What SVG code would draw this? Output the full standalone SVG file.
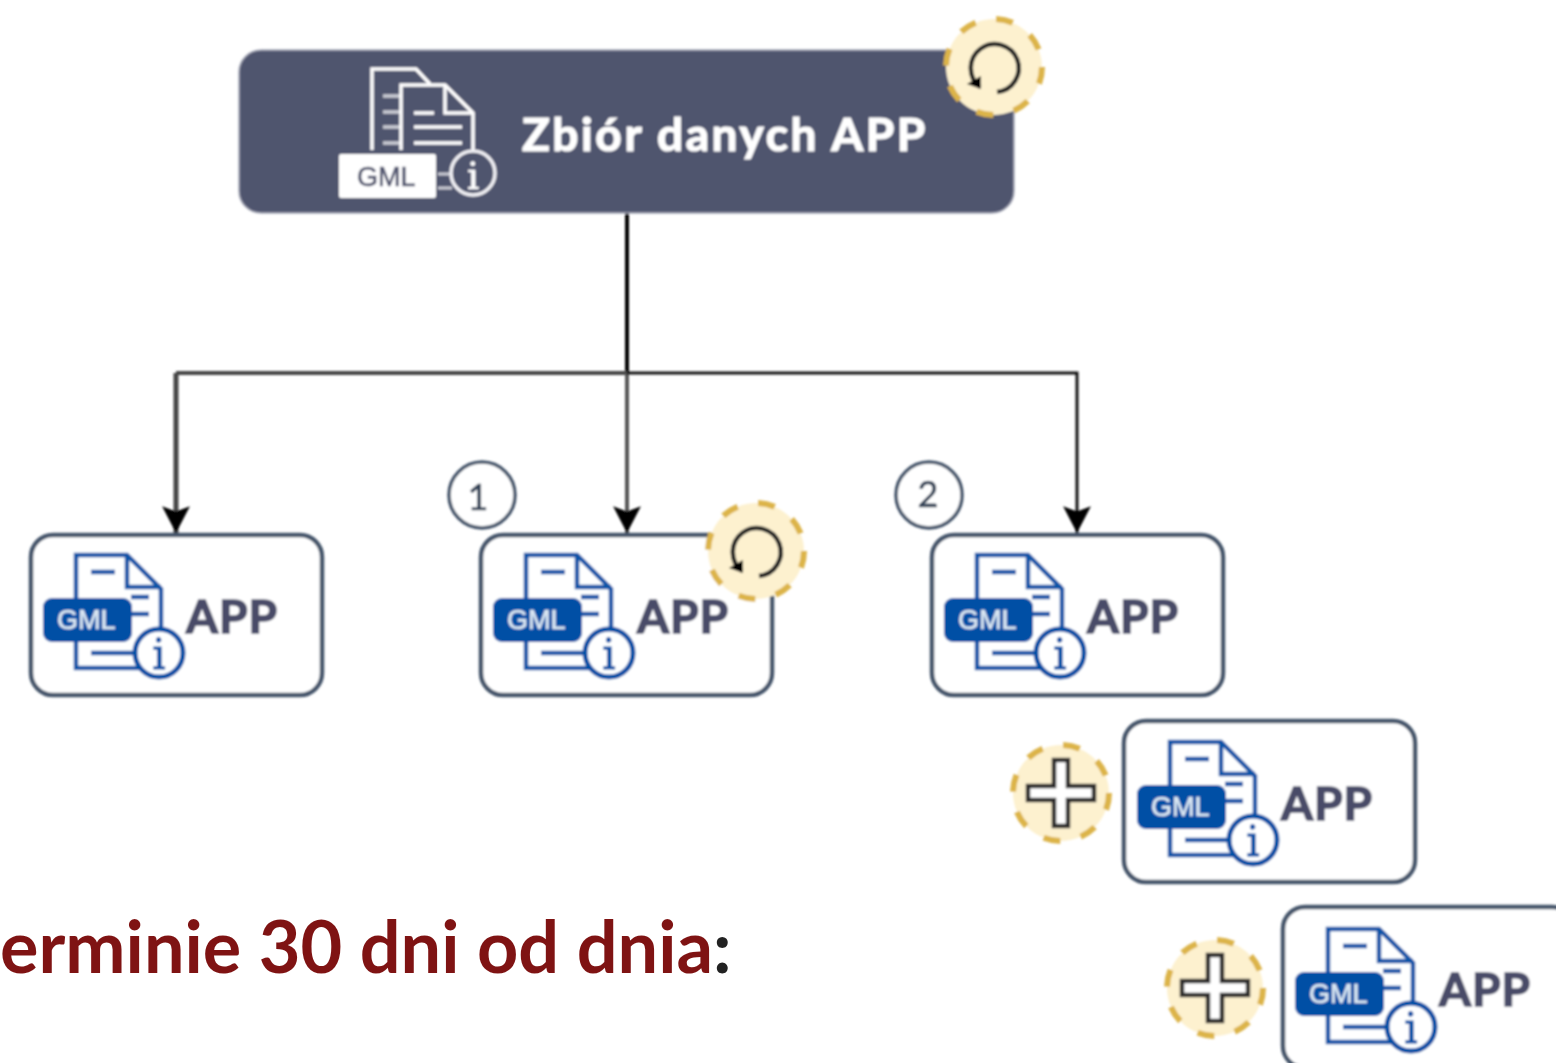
<svg xmlns="http://www.w3.org/2000/svg" width="1556" height="1063" viewBox="0 0 1556 1063">
<style>
text{font-family:Lato,"Liberation Sans",sans-serif;font-weight:700}
.box{fill:#fff;stroke:#44546a;stroke-width:4.5}
.app{font-size:46px;fill:#484c68;stroke:#484c68;stroke-width:1.6;letter-spacing:1px}
.gml{font-size:27px;font-family:"Liberation Sans",sans-serif;font-weight:400;stroke-width:.6}
.ln{fill:none;stroke:#0b55a8;stroke-width:4.5}
.badge{fill:#fdf1cf;stroke:#dcb44a;stroke-width:6;stroke-dasharray:17 21}
.num{fill:#fff;stroke:#44546a;stroke-width:3.5}
.numt{font-size:36px;fill:#2f3f55;font-weight:400;stroke:#2f3f55;stroke-width:.6}
.con{fill:none}
.soft{filter:url(#b)}
</style>
<defs>
<filter id="b" x="0" y="0" width="1556" height="1063" filterUnits="userSpaceOnUse"><feGaussianBlur stdDeviation="0.8"/></filter>
<marker id="arr" markerUnits="userSpaceOnUse" markerWidth="30" markerHeight="30" refX="25" refY="13" orient="auto" viewBox="0 0 28 26"><path d="M0 0 L5 13 L0 26 L25 13 Z" fill="#000"/></marker>
<g id="icon">
<path class="ln" d="M45 20H96L130 54V133H45Z"/>
<path class="ln" d="M96 20V52H130"/>
<path class="ln" d="M60 37H84M100 62H118M100 79H118M60 118H118"/>
<rect x="12" y="63" width="89" height="44" rx="9" fill="#0050a5"/>
<text class="gml" x="26" y="94" fill="#dde8f3" stroke="#dde8f3">GML</text>
<circle cx="128" cy="118" r="24" fill="#fff" stroke="#0050a5" stroke-width="5"/>
<text x="128" y="134" font-size="42" text-anchor="middle" fill="#0050a5" stroke="#0050a5" stroke-width=".8" style="font-family:'DejaVu Serif',serif;font-weight:400">i</text>
</g>
<g id="badge-refresh">
<circle class="badge" r="48"/>
<path d="M3 25 A24 24 0 1 0 -14 20" fill="none" stroke="#222" stroke-width="4.5"/>
<path d="M-27 17 L-13 22 V9 Z" fill="#000"/>
</g>
<g id="badge-plus">
<circle class="badge" r="48"/>
<path d="M-7 -33H7V-7H33V7H7V33H-7V7H-33V-7H-7Z" fill="#fff" stroke="#2a2a2a" stroke-width="4.5"/>
</g>
</defs>
<g id="heading"><text x="0" y="973" font-size="72" fill="#7f1313">erminie 30 dni od dnia<tspan fill="#222">:</tspan></text></g>
<g class="soft">
<g id="connectors">
<path class="con" d="M627 213V373" stroke="#000" stroke-width="4"/>
<path class="con" d="M627 373H176" stroke="#444" stroke-width="4"/>
<path class="con" d="M176 373V533" stroke="#444" stroke-width="5" marker-end="url(#arr)"/>
<path class="con" d="M627 373V533" stroke="#555" stroke-width="4" marker-end="url(#arr)"/>
<path class="con" d="M627 373H1077V533" stroke="#111" stroke-width="3" marker-end="url(#arr)"/>
</g>
<g id="node-root">
<rect x="239" y="50" width="775" height="163" rx="22" fill="#50546e" stroke="#a9acba" stroke-width="1.5"/>
<g fill="none" stroke="#fff" stroke-width="3.5">
<path d="M372 150V69H416L430 84"/>
<path d="M383 96H400M383 112H400M383 127H400M383 143H400" stroke="#c9cad3"/>
<path d="M401 150V85H445L473 113V150"/>
<path d="M445 85V113H473"/>
<path d="M414 113H434M414 127H462M414 143H462"/>
</g>
<rect x="339" y="154" width="97" height="44" rx="2" fill="#fff"/>
<text class="gml" x="357" y="186" fill="#50546e" stroke="#50546e">GML</text>
<path d="M438 174H452M438 188H452" stroke="#c9cad3" stroke-width="3"/>
<circle cx="473" cy="173" r="22" fill="#50546e" stroke="#f0f0f4" stroke-width="3.5"/>
<text x="473" y="189" font-size="38" text-anchor="middle" fill="#fff" stroke="#fff" stroke-width=".6" style="font-family:'DejaVu Serif',serif;font-weight:400">i</text>
<text x="522" y="151" font-size="46" fill="#fff" stroke="#fff" stroke-width="1.2" letter-spacing="2.6">Zbiór danych APP</text>
<use href="#badge-refresh" x="994" y="67"/>
</g>
<g id="node-app-a">
<rect class="box" x="31" y="535" width="291" height="160" rx="22"/>
<use href="#icon" x="31" y="535"/>
<text class="app" x="186" y="633">APP</text>
</g>
<g id="node-app-b">
<rect class="box" x="481" y="535" width="291" height="160" rx="22"/>
<use href="#icon" x="481" y="535"/>
<text class="app" x="637" y="633">APP</text>
<use href="#badge-refresh" x="756" y="551"/>
</g>
<g id="node-app-c">
<rect class="box" x="932" y="535" width="291" height="160" rx="22"/>
<use href="#icon" x="932" y="535"/>
<text class="app" x="1087" y="633">APP</text>
</g>
<g id="node-app-d">
<rect class="box" x="1124" y="721" width="291" height="161" rx="22"/>
<use href="#icon" x="1125" y="722"/>
<text class="app" x="1281" y="820">APP</text>
<use href="#badge-plus" x="1061" y="793"/>
</g>
<g id="node-app-e">
<rect class="box" x="1283" y="907" width="291" height="161" rx="22"/>
<use href="#icon" x="1283" y="909"/>
<text class="app" x="1439" y="1006">APP</text>
<use href="#badge-plus" x="1215" y="988"/>
</g>
<g id="marker-1"><circle class="num" cx="482" cy="495" r="33"/><text class="numt" x="478" y="510" text-anchor="middle">1</text></g>
<g id="marker-2"><circle class="num" cx="929" cy="495" r="33"/><text class="numt" x="928" y="507" text-anchor="middle">2</text></g>
</g>
</svg>
